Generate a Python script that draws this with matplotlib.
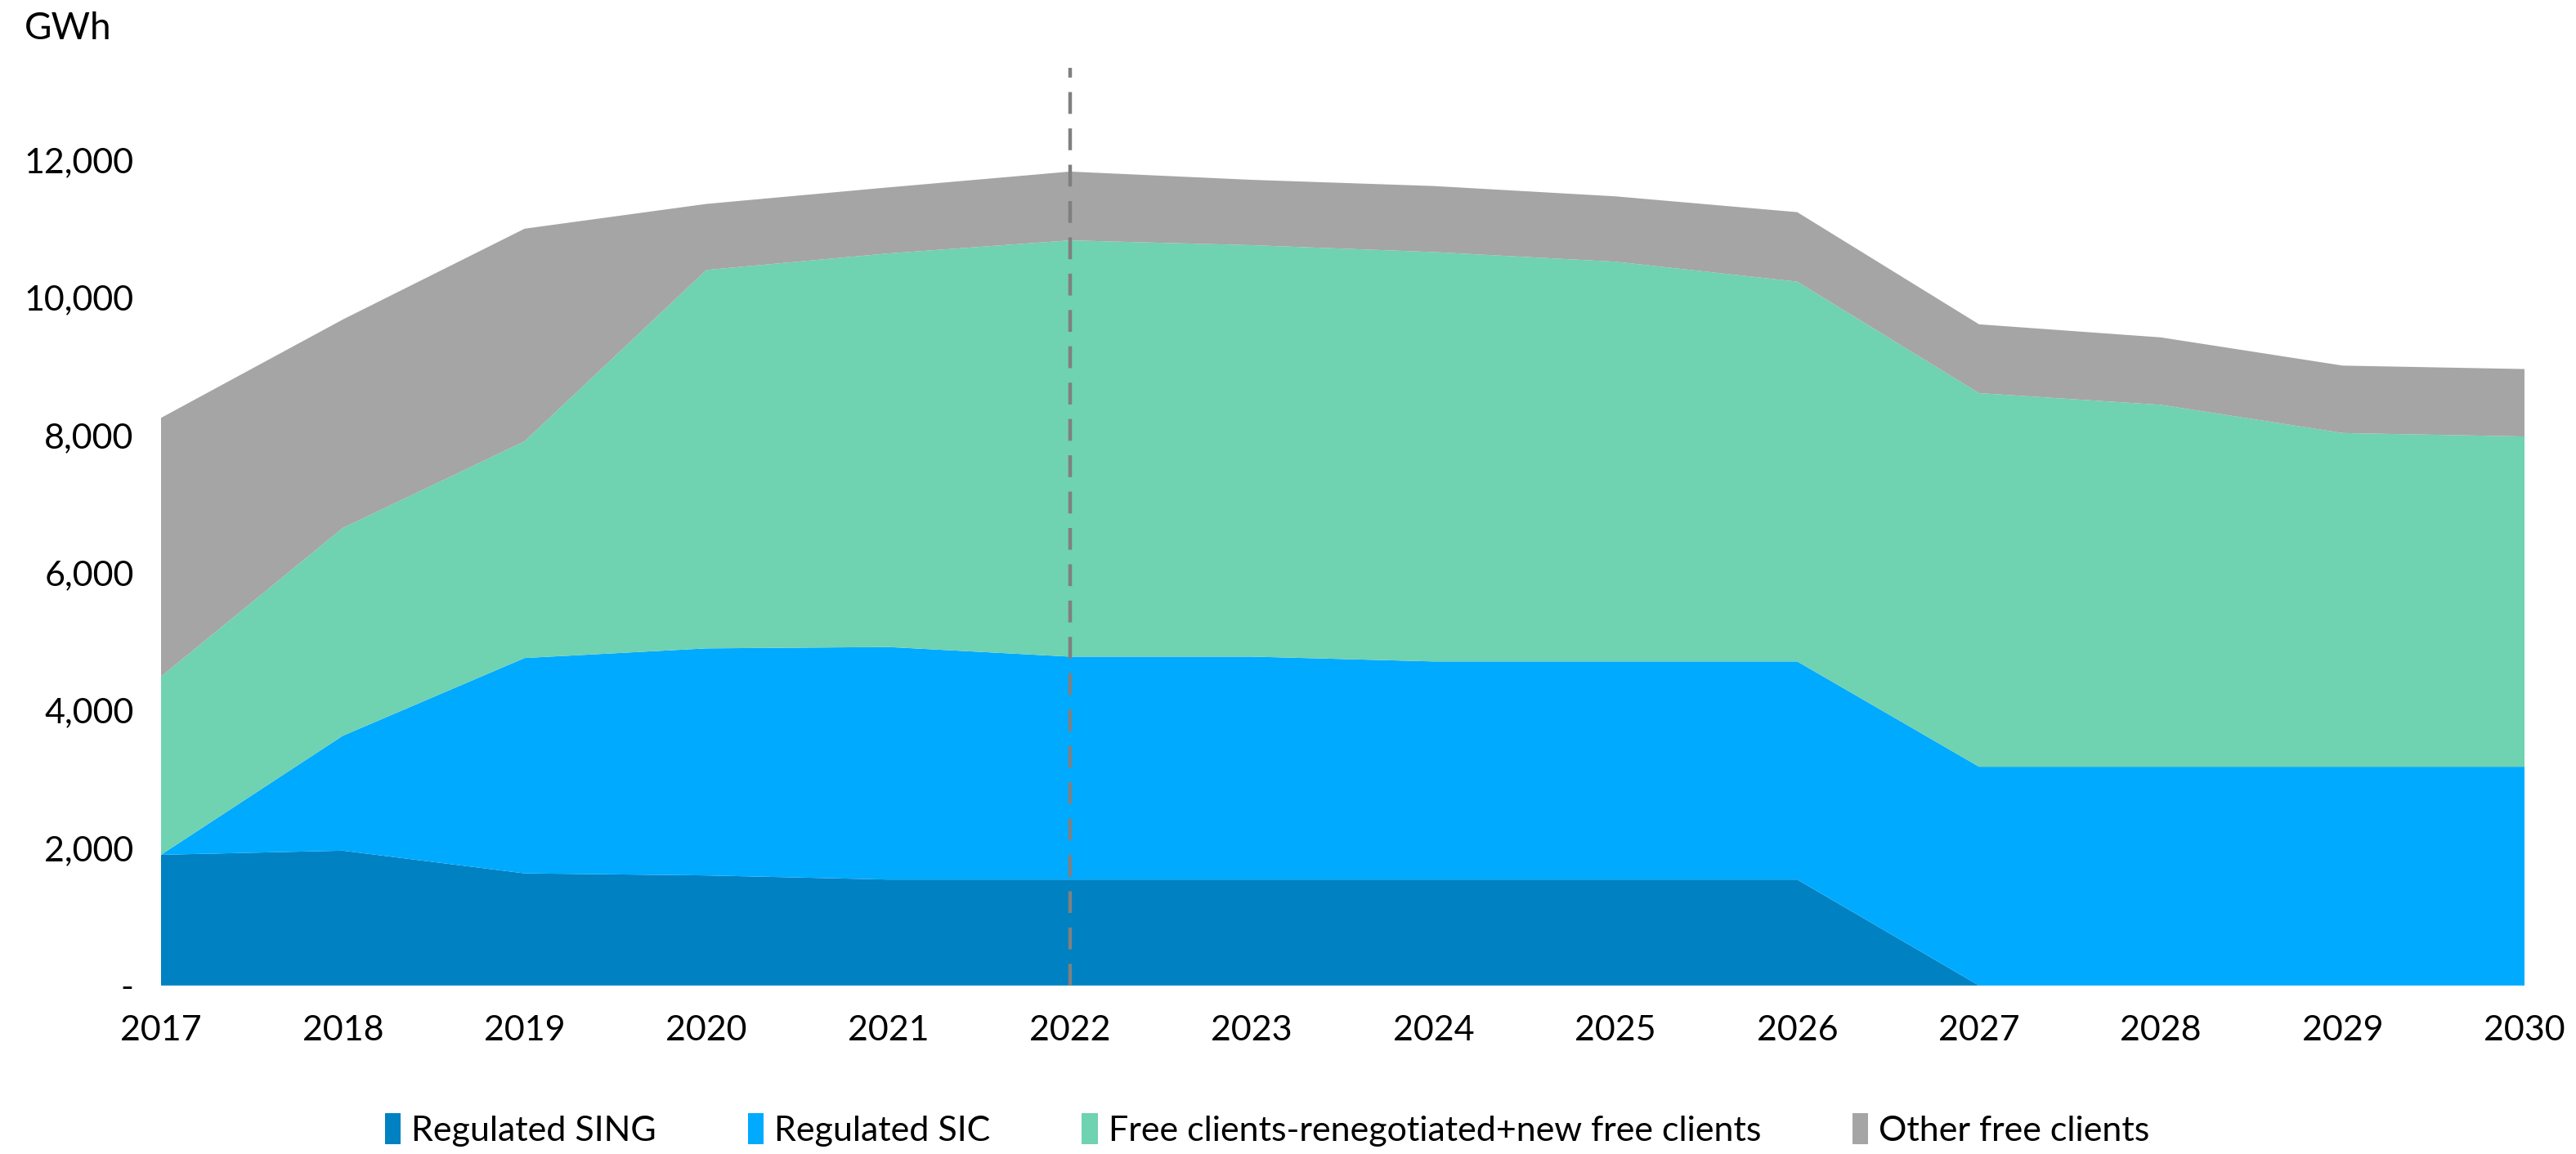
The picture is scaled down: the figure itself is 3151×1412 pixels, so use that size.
import matplotlib
matplotlib.use("Agg")
import matplotlib.pyplot as plt
from matplotlib.patches import Patch
from matplotlib.ticker import FuncFormatter

plt.rcParams['font.family'] = ['Lato', 'DejaVu Sans']

# Datos (GWh)
anios = [2017, 2018, 2019, 2020, 2021, 2022, 2023, 2024, 2025, 2026, 2027, 2028, 2029, 2030]
regulated_sing = [1900, 1960, 1630, 1600, 1540, 1540, 1540, 1540, 1540, 1540, 0, 0, 0, 0]
regulated_sic = [0, 1670, 3130, 3300, 3380, 3240, 3240, 3170, 3170, 3170, 3180, 3180, 3180, 3180]
free_clients = [2590, 3020, 3150, 5500, 5720, 6050, 5980, 5950, 5810, 5520, 5430, 5260, 4850, 4800]
other_free = [3760, 3030, 3090, 960, 960, 1000, 950, 960, 950, 1010, 1000, 980, 980, 980]
etiquetas = ["Regulated SING", "Regulated SIC", "Free clients-renegotiated+new free clients", "Other free clients"]
colores = ["#0081C2", "#00AAFF", "#6FD2B0", "#A5A5A5"]

fig = plt.figure(figsize=(15.755, 7.06), dpi=200)
ax = fig.add_axes([0.0625, 0.146, 0.9175, 0.787])

ax.stackplot(anios, regulated_sing, regulated_sic, free_clients, other_free,
             colors=colores, labels=etiquetas, linewidth=0)

# linea vertical punteada en 2022
ax.axvline(2022, color="#808080", linestyle=(0, (6, 4)), linewidth=1.6, ymin=0, ymax=1.01, clip_on=False)

ax.set_xlim(2017, 2030)
ax.set_ylim(0, 13200)
ax.set_xticks(anios)
ax.set_yticks(range(0, 12001, 2000))
ax.yaxis.set_major_formatter(FuncFormatter(lambda v, p: "-" if v == 0 else f"{int(v):,}"))
ax.tick_params(axis="both", length=0, labelsize=15.5)
ax.tick_params(axis="x", pad=13)
ax.tick_params(axis="y", pad=12)
for s in ax.spines.values():
    s.set_visible(False)

fig.text(0.0095, 0.975, "GWh", fontsize=16.5, ha="left", va="center")

handles = [Patch(facecolor=c, label=l) for c, l in zip(colores, etiquetas)]
fig.legend(handles=handles, loc="center", bbox_to_anchor=(0.492, 0.021), ncol=4, frameon=False,
           fontsize=15.5, handlelength=0.45, handleheight=1.0, handletextpad=0.3, columnspacing=2.6)

fig.savefig("out.png", dpi=200)
